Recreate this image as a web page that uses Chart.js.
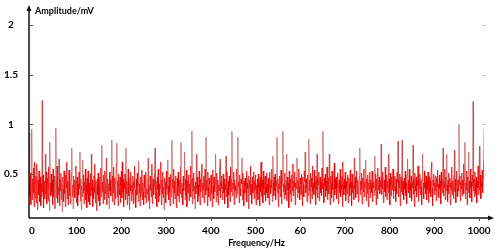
<!DOCTYPE html>
<html>
<head>
<meta charset="utf-8">
<script src="https://cdn.jsdelivr.net/npm/chart.js@4/dist/chart.umd.min.js"></script>
<style>
  html, body { margin: 0; padding: 0; background: #fff; }
</style>
</head>
<body>
<canvas id="myChart" width="500" height="252"></canvas>
<script>
// one value per Hz, 0..1000
const FREQ_STEP = 1;
const AMPLITUDE = [
  0.42, 0.91, 0.28, 0.51, 0.19, 0.37, 0.95, 0.24, 0.45, 0.31, 0.56, 0.17, 0.62, 0.33, 0.26, 0.48, 0.21, 0.60, 0.35, 0.14, 0.44, 0.29, 0.53, 0.38, 0.22,
  0.47, 0.18, 0.40, 0.27, 1.24, 0.32, 0.49, 0.16, 0.36, 0.43, 0.25, 0.70, 0.30, 0.52, 0.20, 0.39, 0.46, 0.23, 0.57, 0.34, 0.13, 0.82, 0.41, 0.28, 0.50,
  0.31, 0.44, 0.19, 0.55, 0.27, 0.38, 0.48, 0.15, 0.34, 0.96, 0.26, 0.42, 0.58, 0.21, 0.37, 0.29, 0.65, 0.18, 0.45, 0.33, 0.51, 0.24, 0.40, 0.12, 0.47,
  0.35, 0.22, 0.53, 0.30, 0.41, 0.17, 0.49, 0.36, 0.62, 0.25, 0.43, 0.19, 0.38, 0.54, 0.28, 0.46, 0.20, 0.33, 0.50, 0.76, 0.27, 0.39, 0.15, 0.48, 0.31,
  0.44, 0.26, 0.37, 0.58, 0.21, 0.32, 0.47, 0.18, 0.40, 0.29, 0.52, 0.35, 0.72, 0.23, 0.45, 0.14, 0.38, 0.27, 0.64, 0.31, 0.49, 0.20, 0.42, 0.34, 0.55,
  0.24, 0.39, 0.16, 0.46, 0.30, 0.53, 0.22, 0.41, 0.35, 0.19, 0.50, 0.28, 0.70, 0.33, 0.44, 0.17, 0.37, 0.25, 0.48, 0.31, 0.60, 0.21, 0.43, 0.36, 0.13,
  0.45, 0.29, 0.51, 0.23, 0.38, 0.47, 0.18, 0.34, 0.56, 0.27, 0.79, 0.32, 0.42, 0.20, 0.49, 0.36, 0.24, 0.53, 0.30, 0.41, 0.66, 0.19, 0.37, 0.45, 0.26,
  0.40, 0.15, 0.52, 0.33, 0.44, 0.28, 0.37, 0.84, 0.22, 0.48, 0.31, 0.57, 0.19, 0.39, 0.46, 0.25, 0.35, 0.61, 0.81, 0.27, 0.43, 0.18, 0.50, 0.34, 0.29,
  0.47, 0.21, 0.38, 0.53, 0.26, 0.62, 0.32, 0.45, 0.17, 0.41, 0.35, 0.50, 0.24, 0.76, 0.30, 0.43, 0.19, 0.37, 0.55, 0.28, 0.46, 0.14, 0.40, 0.33, 0.52,
  0.23, 0.39, 0.30, 0.48, 0.20, 0.42, 0.36, 0.58, 0.25, 0.34, 0.16, 0.45, 0.29, 0.51, 0.38, 0.22, 0.63, 0.31, 0.40, 0.18, 0.47, 0.27, 0.35, 0.54, 0.24,
  0.41, 0.32, 0.19, 0.49, 0.37, 0.26, 0.44, 0.52, 0.21, 0.35, 0.30, 0.46, 0.66, 0.23, 0.39, 0.15, 0.48, 0.33, 0.42, 0.27, 0.60, 0.20, 0.36, 0.45, 0.29,
  0.38, 0.50, 0.76, 0.25, 0.43, 0.31, 0.17, 0.47, 0.34, 0.55, 0.22, 0.40, 0.28, 0.36, 0.49, 0.62, 0.19, 0.44, 0.30, 0.52, 0.26, 0.37, 0.14, 0.46, 0.33,
  0.42, 0.21, 0.53, 0.35, 0.29, 0.64, 0.38, 0.24, 0.47, 0.32, 0.18, 0.50, 0.40, 0.27, 0.84, 0.36, 0.45, 0.20, 0.55, 0.31, 0.43, 0.25, 0.39, 0.48, 0.16,
  0.34, 0.46, 0.28, 0.52, 0.37, 0.22, 0.44, 0.30, 0.57, 0.82, 0.26, 0.41, 0.35, 0.19, 0.48, 0.33, 0.40, 0.72, 0.24, 0.45, 0.29, 0.54, 0.17, 0.38, 0.43,
  0.31, 0.49, 0.23, 0.40, 0.36, 0.58, 0.27, 0.44, 0.93, 0.20, 0.46, 0.33, 0.51, 0.25, 0.38, 0.15, 0.42, 0.30, 0.70, 0.35, 0.47, 0.22, 0.39, 0.28, 0.53,
  0.37, 0.19, 0.45, 0.32, 0.50, 0.60, 0.26, 0.41, 0.34, 0.48, 0.21, 0.38, 0.55, 0.29, 0.87, 0.33, 0.44, 0.18, 0.52, 0.36, 0.27, 0.46, 0.40, 0.23, 0.35,
  0.49, 0.30, 0.43, 0.17, 0.54, 0.38, 0.25, 0.47, 0.32, 0.41, 0.70, 0.22, 0.36, 0.51, 0.28, 0.44, 0.19, 0.39, 0.33, 0.56, 0.65, 0.26, 0.42, 0.35, 0.48,
  0.24, 0.37, 0.50, 0.31, 0.45, 0.20, 0.40, 0.34, 0.68, 0.27, 0.53, 0.36, 0.16, 0.43, 0.29, 0.48, 0.38, 0.22, 0.57, 0.32, 0.45, 0.93, 0.28, 0.41, 0.35,
  0.52, 0.19, 0.44, 0.33, 0.39, 0.26, 0.47, 0.55, 0.30, 0.87, 0.37, 0.42, 0.21, 0.49, 0.35, 0.28, 0.45, 0.40, 0.66, 0.24, 0.51, 0.34, 0.18, 0.43, 0.31,
  0.46, 0.38, 0.27, 0.53, 0.22, 0.41, 0.35, 0.48, 0.15, 0.37, 0.44, 0.29, 0.58, 0.33, 0.40, 0.20, 0.47, 0.31, 0.36, 0.52, 0.25, 0.43, 0.34, 0.49, 0.19,
  0.39, 0.30, 0.45, 0.24, 0.50, 0.36, 0.41, 0.18, 0.47, 0.32, 0.62, 0.27, 0.38, 0.44, 0.21, 0.53, 0.35, 0.29, 0.42, 0.48, 0.23, 0.37, 0.51, 0.31, 0.40,
  0.26, 0.46, 0.34, 0.19, 0.52, 0.39, 0.30, 0.44, 0.36, 0.55, 0.22, 0.68, 0.41, 0.28, 0.47, 0.33, 0.50, 0.24, 0.38, 0.43, 0.87, 0.31, 0.45, 0.17, 0.40,
  0.35, 0.48, 0.27, 0.42, 0.54, 0.20, 0.37, 0.46, 0.93, 0.32, 0.40, 0.25, 0.51, 0.38, 0.29, 0.44, 0.70, 0.23, 0.47, 0.34, 0.41, 0.16, 0.53, 0.36, 0.30,
  0.45, 0.22, 0.39, 0.49, 0.33, 0.60, 0.28, 0.43, 0.37, 0.52, 0.19, 0.41, 0.35, 0.47, 0.66, 0.26, 0.44, 0.31, 0.55, 0.38, 0.24, 0.46, 0.40, 0.29, 0.50,
  0.34, 0.18, 0.47, 0.39, 0.27, 0.53, 0.42, 0.72, 0.31, 0.45, 0.36, 0.22, 0.49, 0.40, 0.28, 0.85, 0.33, 0.44, 0.20, 0.51, 0.37, 0.46, 0.25, 0.58, 0.32,
  0.41, 0.29, 0.54, 0.36, 0.43, 0.19, 0.48, 0.34, 0.70, 0.26, 0.45, 0.39, 0.52, 0.23, 0.37, 0.47, 0.31, 0.42, 0.28, 0.56, 0.35, 0.93, 0.40, 0.21, 0.46,
  0.38, 0.50, 0.27, 0.43, 0.33, 0.57, 0.24, 0.40, 0.46, 0.30, 0.70, 0.36, 0.19, 0.48, 0.41, 0.26, 0.53, 0.34, 0.44, 0.22, 0.39, 0.61, 0.29, 0.45, 0.35,
  0.47, 0.25, 0.42, 0.36, 0.51, 0.20, 0.38, 0.44, 0.31, 0.55, 0.27, 0.40, 0.34, 0.48, 0.17, 0.62, 0.39, 0.29, 0.45, 0.35, 0.52, 0.23, 0.43, 0.37, 0.30,
  0.49, 0.33, 0.21, 0.46, 0.40, 0.28, 0.54, 0.36, 0.42, 0.18, 0.50, 0.31, 0.45, 0.38, 0.24, 0.66, 0.35, 0.47, 0.26, 0.41, 0.53, 0.30, 0.39, 0.44, 0.22,
  0.37, 0.48, 0.76, 0.29, 0.43, 0.34, 0.51, 0.20, 0.40, 0.46, 0.32, 0.55, 0.27, 0.42, 0.36, 0.64, 0.23, 0.45, 0.38, 0.30, 0.49, 0.17, 0.41, 0.35, 0.52,
  0.26, 0.44, 0.39, 0.31, 0.53, 0.22, 0.47, 0.36, 0.42, 0.28, 0.68, 0.33, 0.50, 0.19, 0.45, 0.38, 0.25, 0.56, 0.34, 0.41, 0.47, 0.30, 0.43, 0.37, 0.80,
  0.29, 0.46, 0.35, 0.52, 0.21, 0.40, 0.44, 0.32, 0.57, 0.27, 0.38, 0.49, 0.24, 0.43, 0.36, 0.70, 0.31, 0.45, 0.19, 0.51, 0.39, 0.28, 0.47, 0.34, 0.42,
  0.55, 0.25, 0.40, 0.33, 0.48, 0.37, 0.22, 0.45, 0.30, 0.52, 0.41, 0.83, 0.27, 0.44, 0.36, 0.50, 0.18, 0.39, 0.47, 0.32, 0.84, 0.29, 0.43, 0.38, 0.24,
  0.46, 0.35, 0.53, 0.28, 0.41, 0.20, 0.49, 0.65, 0.37, 0.44, 0.31, 0.55, 0.26, 0.40, 0.34, 0.48, 0.23, 0.42, 0.36, 0.79, 0.30, 0.45, 0.17, 0.51, 0.39,
  0.33, 0.47, 0.27, 0.43, 0.38, 0.58, 0.22, 0.40, 0.35, 0.50, 0.29, 0.44, 0.37, 0.19, 0.46, 0.70, 0.32, 0.41, 0.25, 0.53, 0.36, 0.42, 0.30, 0.48, 0.24,
  0.45, 0.34, 0.52, 0.21, 0.39, 0.47, 0.31, 0.43, 0.27, 0.56, 0.62, 0.36, 0.18, 0.44, 0.38, 0.50, 0.29, 0.41, 0.33, 0.48, 0.23, 0.46, 0.37, 0.54, 0.30,
  0.40, 0.26, 0.49, 0.35, 0.43, 0.20, 0.52, 0.38, 0.31, 0.45, 0.76, 0.28, 0.42, 0.36, 0.55, 0.24, 0.47, 0.33, 0.70, 0.39, 0.22, 0.44, 0.30, 0.51, 0.37,
  0.46, 0.19, 0.41, 0.34, 0.57, 0.29, 0.43, 0.38, 0.25, 0.49, 0.74, 0.32, 0.45, 0.21, 0.40, 0.53, 0.36, 0.27, 0.44, 0.33, 1.00, 0.39, 0.48, 0.23, 0.42,
  0.35, 0.51, 0.28, 0.44, 0.37, 0.60, 0.30, 0.46, 0.82, 0.25, 0.41, 0.34, 0.53, 0.19, 0.47, 0.39, 0.72, 0.31, 0.43, 0.26, 0.55, 0.36, 0.42, 0.22, 0.49,
  0.38, 1.23, 0.33, 0.45, 0.27, 0.52, 0.40, 0.30, 0.47, 0.21, 0.43, 0.36, 0.58, 0.29, 0.44, 0.78, 0.34, 0.49, 0.25, 0.41, 0.37, 0.54, 0.31, 0.46, 0.62,
  0.95
];
const X_TICKS = [0, 100, 200, 300, 400, 500, 600, 700, 800, 900, 1000];
const X_TICK_LABELS = ['0', '100', '200', '300', '400', '500', '60', '700', '800', '900', '1000'];
const Y_TICKS = [0.5, 1, 1.5, 2];
const Y_TICK_LABELS = ['0.5', '1', '1.5', '2'];
const X_TITLE = 'Frequency/Hz';
const Y_TITLE = 'Amplitude/mV';

const POINTS = AMPLITUDE.map((v, i) => ({ x: i * FREQ_STEP, y: v }));
const FONT = 'Lato, "Open Sans", sans-serif';
const CORE_RED = 'rgba(238, 0, 0, 0.95)';
const SPIKE_RED = 'rgba(190, 70, 70, 0.8)';

// the printed labels drift a little left of the true tick positions
const labelShift = v => 3 - 8 * v / 1000;

// axis lines with arrows, tick marks, tick labels and axis titles
const axesPlugin = {
  id: 'axesDeco',
  afterDatasetsDraw(chart) {
    const c = chart.ctx;
    const area = chart.chartArea;
    const xs = chart.scales.x, ys = chart.scales.y;
    c.save();
    c.strokeStyle = '#111';
    c.fillStyle = '#111';
    c.lineWidth = 1.5;
    // y axis
    c.beginPath();
    c.moveTo(area.left, area.bottom);
    c.lineTo(area.left, area.top - 2);
    c.stroke();
    c.beginPath();
    c.moveTo(area.left, area.top - 5);
    c.lineTo(area.left - 2.5, area.top + 1);
    c.lineTo(area.left + 2.5, area.top + 1);
    c.closePath();
    c.fill();
    // x axis
    c.beginPath();
    c.moveTo(area.left, area.bottom);
    c.lineTo(area.right + 6, area.bottom);
    c.stroke();
    c.beginPath();
    c.moveTo(area.right + 10, area.bottom);
    c.lineTo(area.right + 4, area.bottom - 2.5);
    c.lineTo(area.right + 4, area.bottom + 2.5);
    c.closePath();
    c.fill();
    // tick marks
    c.lineWidth = 1;
    Y_TICKS.forEach(v => {
      const y = Math.round(ys.getPixelForValue(v)) + 0.5;
      c.strokeStyle = '#555';
      c.beginPath(); c.moveTo(area.left, y); c.lineTo(area.left + 4, y); c.stroke();
      c.strokeStyle = '#bbb';
      c.beginPath(); c.moveTo(area.right - 1, y); c.lineTo(area.right + 2, y); c.stroke();
    });
    c.strokeStyle = '#555';
    X_TICKS.slice(1).forEach(v => {
      const x = Math.round(xs.getPixelForValue(v) + labelShift(v)) + 0.5;
      c.beginPath(); c.moveTo(x, area.bottom); c.lineTo(x, area.bottom + 3); c.stroke();
    });
    // tick labels
    c.fillStyle = '#000';
    c.font = 'bold 10px ' + FONT;
    c.textBaseline = 'middle';
    c.textAlign = 'center';
    Y_TICKS.forEach((v, i) => {
      c.fillText(Y_TICK_LABELS[i], 11, ys.getPixelForValue(v));
    });
    X_TICKS.forEach((v, i) => {
      c.fillText(X_TICK_LABELS[i], xs.getPixelForValue(v) + labelShift(v), area.bottom + 13);
    });
    // titles
    c.font = 'bold 9px ' + FONT;
    c.textAlign = 'left';
    c.fillText(Y_TITLE, area.left + 6, 11);
    c.textAlign = 'center';
    c.fillText(X_TITLE, (area.left + area.right) / 2, 243);
    c.restore();
  }
};

const ctx = document.getElementById('myChart').getContext('2d');
const myChart = new Chart(ctx, {
  type: 'line',
  data: {
    datasets: [{
      data: POINTS,
      borderColor: CORE_RED,
      borderWidth: 0.8,
      pointRadius: 0,
      tension: 0,
      fill: false,
      segment: {
        // the tall spikes and the deepest dips are thin and look brownish
        borderColor: s => {
          const hi = Math.max(s.p0.parsed.y, s.p1.parsed.y);
          const lo = Math.min(s.p0.parsed.y, s.p1.parsed.y);
          return (hi > 0.62 || lo < 0.16) ? SPIKE_RED : CORE_RED;
        }
      }
    }]
  },
  options: {
    responsive: false,
    animation: false,
    devicePixelRatio: 1,
    layout: { padding: { top: 10, right: 16, left: 0, bottom: 0 } },
    plugins: { legend: { display: false }, tooltip: { enabled: false } },
    scales: {
      x: {
        type: 'linear',
        min: 0,
        max: 1000,
        afterBuildTicks: axis => { axis.ticks = X_TICKS.map(v => ({ value: v })); },
        afterFit: scale => { scale.height = 34; },
        grid: { display: false },
        border: { display: false },
        ticks: { display: false }
      },
      y: {
        min: 0.057,
        max: 2.15,
        afterBuildTicks: axis => { axis.ticks = Y_TICKS.map(v => ({ value: v })); },
        afterFit: scale => { scale.width = 29; },
        grid: { display: false },
        border: { display: false },
        ticks: { display: false }
      }
    }
  },
  plugins: [axesPlugin]
});
</script>
</body>
</html>
